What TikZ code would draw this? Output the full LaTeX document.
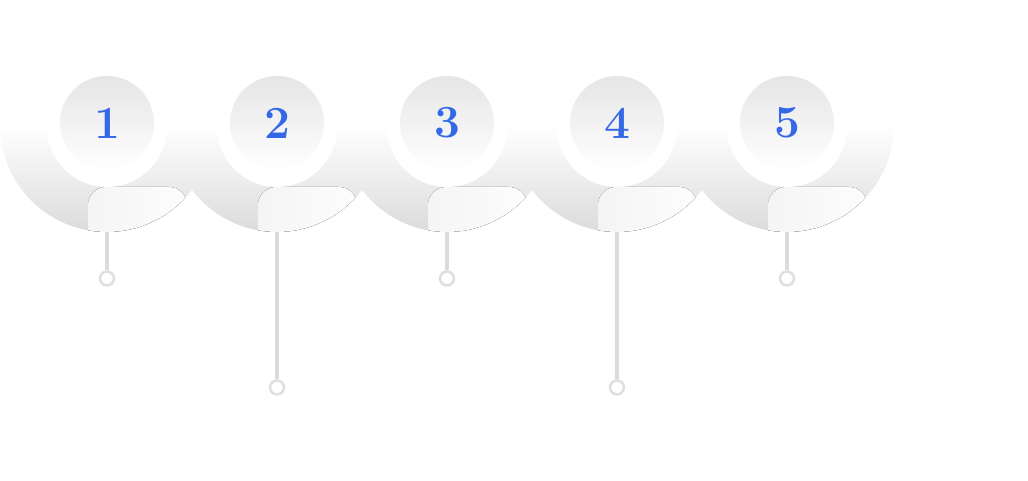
\documentclass[tikz,border=0pt]{standalone}
\usepackage{xcolor}
\usepackage{tikz}
\usetikzlibrary{shapes,arrows,fit,positioning}
\definecolor{numblue}{RGB}{52,104,232}

\begin{document}
\begin{tikzpicture}[x=1pt, y=1pt, node distance=170pt,
    % Styles for the step markers
    disk/.style={circle, minimum size=214pt, inner sep=0pt, top color=white, bottom color=gray!28, middle color=white,
        path picture={\fill[left color=gray!14, right color=white, rounded corners=18pt]
            ([xshift=-19pt, yshift=-20pt]path picture bounding box.south) rectangle
            ([xshift=80pt, yshift=45pt]path picture bounding box.south);}},
    hole/.style={circle, fill=white, minimum size=120pt, inner sep=0pt},
    badge/.style={circle, minimum size=94pt, inner sep=0pt, top color=gray!20, bottom color=white,
        text=numblue, font=\fontsize{46}{46}\selectfont\bfseries},
    ring/.style={circle, draw=gray!25, line width=2.5pt, fill=white, minimum size=14pt, inner sep=0pt},
    stem/.style={draw=gray!28, line width=3.5pt}]

    \useasboundingbox (0,0) rectangle (1028,481);

    % Outer disks (right to left, so each one overlaps its right neighbour)
    \node [disk] (d5) at (787,356) {};
    \node [disk, left of=d5] (d4) {};
    \node [disk, left of=d4] (d3) {};
    \node [disk, left of=d3] (d2) {};
    \node [disk, left of=d2] (d1) {};

    % Inner white holes
    \node [hole] (h1) at ([yshift=-2pt]d1.center) {};
    \node [hole] (h2) at ([yshift=-2pt]d2.center) {};
    \node [hole] (h3) at ([yshift=-2pt]d3.center) {};
    \node [hole] (h4) at ([yshift=-2pt]d4.center) {};
    \node [hole] (h5) at ([yshift=-2pt]d5.center) {};

    % Number badges
    \node [badge] (b1) at ([yshift=2pt]d1.center) {1};
    \node [badge] (b2) at ([yshift=2pt]d2.center) {2};
    \node [badge] (b3) at ([yshift=2pt]d3.center) {3};
    \node [badge] (b4) at ([yshift=2pt]d4.center) {4};
    \node [badge] (b5) at ([yshift=2pt]d5.center) {5};

    % End rings of the stems
    \node [ring, below=38pt of d1] (r1) {};
    \node [ring, below=147pt of d2] (r2) {};
    \node [ring, below=38pt of d3] (r3) {};
    \node [ring, below=147pt of d4] (r4) {};
    \node [ring, below=38pt of d5] (r5) {};

    % Stems
    \path [stem] (d1.south) -- (r1.north);
    \path [stem] (d2.south) -- (r2.north);
    \path [stem] (d3.south) -- (r3.north);
    \path [stem] (d4.south) -- (r4.north);
    \path [stem] (d5.south) -- (r5.north);

\end{tikzpicture}
\end{document}
